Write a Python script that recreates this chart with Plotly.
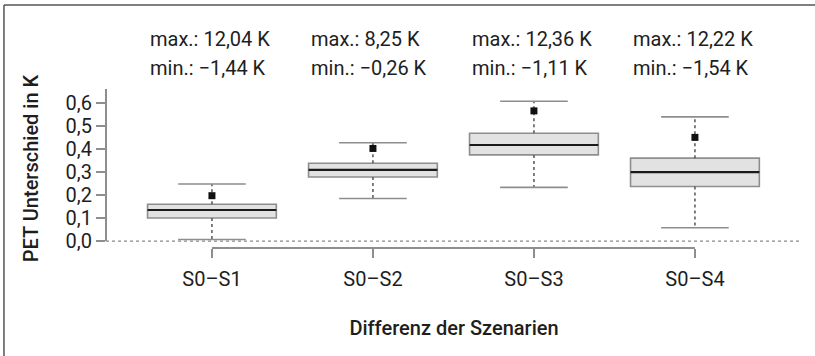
import plotly.graph_objects as go

# ---- data ----
categories = ["S0–S1", "S0–S2", "S0–S3", "S0–S4"]
q1_vals = [0.100, 0.278, 0.374, 0.237]
median_vals = [0.135, 0.309, 0.417, 0.299]
q3_vals = [0.160, 0.338, 0.468, 0.360]
lower_whisker = [0.007, 0.185, 0.233, 0.058]
upper_whisker = [0.248, 0.427, 0.607, 0.539]
mean_vals = [0.197, 0.402, 0.565, 0.450]
max_labels = ["12,04", "8,25", "12,36", "12,22"]
min_labels = ["−1,44", "−0,26", "−1,11", "−1,54"]
y_ticks = [0.0, 0.1, 0.2, 0.3, 0.4, 0.5, 0.6]

FONT = "Roboto"
FS = 20
TXT = "#1e1e1e"
AX = "#8e8e8e"
xs = list(range(1, len(categories) + 1))
BOXW = 0.80
CAP = 0.21

fig = go.Figure()

# whisker stems (dotted)
sx, sy = [], []
for x, lo, q1, q3, hi in zip(xs, lower_whisker, q1_vals, q3_vals, upper_whisker):
    sx += [x, x, None, x, x, None]
    sy += [q3, hi, None, q1, lo, None]
fig.add_trace(go.Scatter(x=sx, y=sy, mode="lines", hoverinfo="skip",
                         line=dict(color="#555555", width=1.5, dash="dot"),
                         showlegend=False))
# whisker caps
cx, cy = [], []
for x, lo, hi in zip(xs, lower_whisker, upper_whisker):
    cx += [x - CAP, x + CAP, None, x - CAP, x + CAP, None]
    cy += [hi, hi, None, lo, lo, None]
fig.add_trace(go.Scatter(x=cx, y=cy, mode="lines", hoverinfo="skip",
                         line=dict(color=AX, width=1.6), showlegend=False))

# boxes
fig.add_trace(go.Box(x=xs, q1=q1_vals, median=median_vals, q3=q3_vals,
                     lowerfence=q1_vals, upperfence=q3_vals,
                     width=BOXW, whiskerwidth=0,
                     fillcolor="#e2e2e2", line=dict(color=AX, width=1.6),
                     boxpoints=False, showlegend=False))
# medians
mx, my = [], []
for x, m in zip(xs, median_vals):
    mx += [x - BOXW / 2, x + BOXW / 2, None]
    my += [m, m, None]
fig.add_trace(go.Scatter(x=mx, y=my, mode="lines", hoverinfo="skip",
                         line=dict(color="#1a1a1a", width=2.2), showlegend=False))
# means
fig.add_trace(go.Scatter(x=xs, y=mean_vals, mode="markers",
                         marker=dict(symbol="square", size=7, color="#111111"),
                         showlegend=False))

# annotations max/min
for x, mxl, mnl in zip(xs, max_labels, min_labels):
    fig.add_annotation(x=x - 0.40, xref="x", xanchor="left", y=1.315, yref="paper",
                       yanchor="middle", text=f"max.: {mxl} K", showarrow=False,
                       font=dict(family=FONT, size=FS, color=TXT))
    fig.add_annotation(x=x - 0.40, xref="x", xanchor="left", y=1.13, yref="paper",
                       yanchor="middle", text=f"min.: {mnl} K", showarrow=False,
                       font=dict(family=FONT, size=FS, color=TXT))

# decorations: zero line, R-style axis lines, outer frame
fig.add_shape(type="line", xref="paper", yref="y", x0=0, x1=1, y0=0, y1=0,
              line=dict(color="#8a8a8a", width=1.4, dash="dot"), layer="below")
fig.add_shape(type="line", xref="paper", yref="y", x0=0, x1=0, y0=0, y1=0.665,
              line=dict(color=AX, width=2))
fig.add_shape(type="line", xref="x", yref="paper", x0=xs[0], x1=xs[-1], y0=0, y1=0,
              line=dict(color=AX, width=2))
fig.add_shape(type="line", xref="paper", yref="paper", x0=-0.1466, x1=1.0187, y0=1.528, y1=1.528,
              line=dict(color="#555555", width=1.5))
fig.add_shape(type="line", xref="paper", yref="paper", x0=-0.1466, x1=-0.1466, y0=1.528, y1=-0.8,
              line=dict(color="#555555", width=1.5))

fig.update_layout(
    width=815, height=356,
    margin=dict(l=106, r=13, t=89, b=108),
    paper_bgcolor="white", plot_bgcolor="white",
    separators=",.",
    font=dict(family=FONT, size=FS, color=TXT),
    xaxis=dict(range=[0.342, 4.665], tickvals=xs, ticktext=categories,
               showgrid=False, zeroline=False, showline=False,
               ticks="outside", ticklen=9, tickwidth=2, tickcolor=AX,
               ticklabelstandoff=4,
               tickfont=dict(family=FONT, size=FS, color=TXT),
               title=dict(text="Differenz der Szenarien", standoff=30,
                          font=dict(family=FONT, size=FS, color=TXT, weight=500))),
    yaxis=dict(range=[-0.03, 0.66], tickvals=y_ticks, tickformat=".1f",
               showgrid=False, zeroline=False, showline=False,
               ticks="outside", ticklen=9, tickwidth=2, tickcolor=AX,
               tickfont=dict(family=FONT, size=FS, color=TXT),
               title=dict(text="PET Unterschied in K", standoff=21,
                          font=dict(family=FONT, size=FS, color=TXT, weight=500))),
)

fig.write_html("out.html", config={"displayModeBar": False},
               post_script="document.body.style.margin='0';")
